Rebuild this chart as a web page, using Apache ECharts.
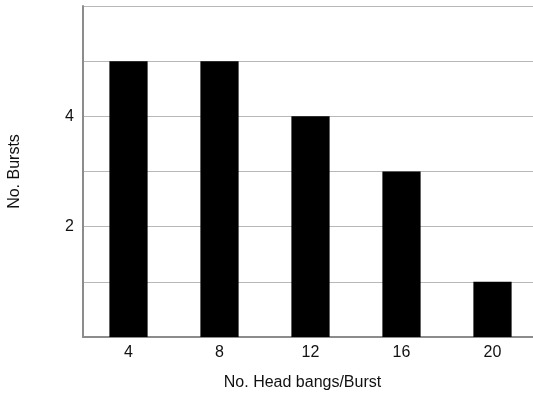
<!DOCTYPE html>
<html>
<head>
<meta charset="utf-8">
<script src="https://cdn.jsdelivr.net/npm/echarts@6/dist/echarts.min.js"></script>
<style>html,body{margin:0;padding:0;background:#fff}#c{width:533px;height:396px}</style>
</head>
<body>
<div id="c"></div>
<script>
const categories = ['4', '8', '12', '16', '20'];
const burstCounts = [5, 5, 4, 3, 1];
const yTickLabels = [2, 4];

const chart = echarts.init(document.getElementById('c'), null, {renderer: 'canvas'});
const font = 'Liberation Sans, Arial, sans-serif';
chart.setOption({
  animation: false,
  grid: {left: 83, width: 455, top: 6, bottom: 59, containLabel: false, outerBoundsMode: 'none'},
  xAxis: {
    type: 'category',
    data: categories,
    name: 'No. Head bangs/Burst',
    nameLocation: 'middle',
    nameGap: 38,
    nameTextStyle: {fontFamily: font, fontSize: 16, color: '#111', padding: [0, 16, 0, 0]},
    axisLine: {lineStyle: {color: '#8c8c8c', width: 2}},
    axisTick: {show: false},
    axisLabel: {fontFamily: font, fontSize: 16, color: '#111', margin: 8}
  },
  yAxis: {
    type: 'value',
    min: 0,
    max: 6,
    interval: 1,
    name: 'No. Bursts',
    nameLocation: 'middle',
    nameGap: 60,
    nameTextStyle: {fontFamily: font, fontSize: 16, color: '#111'},
    axisLine: {show: true, lineStyle: {color: '#8c8c8c', width: 2}},
    axisTick: {show: false},
    axisLabel: {
      fontFamily: font, fontSize: 16, color: '#111', margin: 9,
      formatter: v => yTickLabels.includes(v) ? String(v) : ''
    },
    splitLine: {show: true, lineStyle: {color: '#b8b8b8', width: 1}}
  },
  series: [{
    type: 'bar',
    data: burstCounts,
    barWidth: '42%',
    itemStyle: {color: '#000'}
  }]
});
</script>
</body>
</html>
